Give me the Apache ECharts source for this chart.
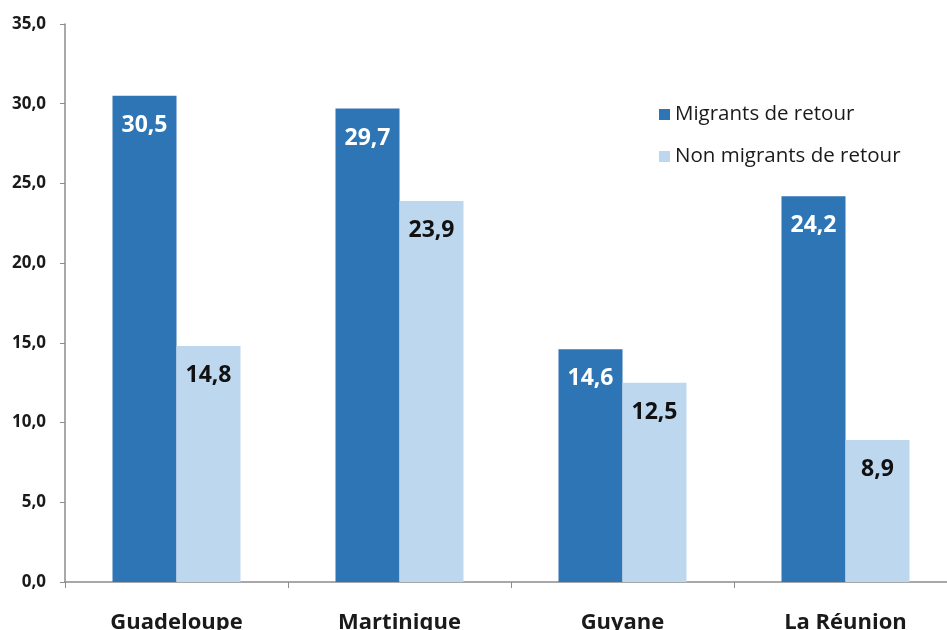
<!DOCTYPE html>
<html>
<head>
<meta charset="utf-8">
<script src="https://cdn.jsdelivr.net/npm/echarts@6/dist/echarts.min.js"></script>
<style>
html,body{margin:0;padding:0;background:#fff;}
#chart{width:947px;height:630px;}
</style>
</head>
<body>
<div id="chart"></div>
<script>
const categories = ['Guadeloupe', 'Martinique', 'Guyane', 'La Réunion'];
const seriesNames = ['Migrants de retour', 'Non migrants de retour'];
const migrants = [30.5, 29.7, 14.6, 24.2];
const nonMigrants = [14.8, 23.9, 12.5, 8.9];

const fmt = v => Number(v).toFixed(1).replace('.', ',');
const FONT = '"Open Sans", "Noto Sans", sans-serif';

const chart = echarts.init(document.getElementById('chart'));
chart.setOption({
  animation: false,
  backgroundColor: '#ffffff',
  textStyle: { fontFamily: FONT },
  legend: {
    orient: 'vertical',
    left: 654,
    top: 99,
    itemWidth: 11,
    itemHeight: 11,
    itemGap: 21,
    icon: 'rect',
    textStyle: { fontSize: 20.5, color: '#1a1a1a', fontFamily: FONT },
    data: seriesNames
  },
  grid: { left: 65, top: 24, right: -10, bottom: 48, containLabel: false, outerBoundsMode: 'none' },
  xAxis: {
    type: 'category',
    data: categories,
    axisLine: { lineStyle: { color: '#8c8c8c', width: 1.5 } },
    axisTick: { show: true, length: 6, lineStyle: { color: '#8c8c8c' } },
    axisLabel: { fontSize: 22, fontWeight: 'bold', color: '#1a1a1a', margin: 30, fontFamily: FONT }
  },
  yAxis: {
    type: 'value',
    min: 0,
    max: 35,
    interval: 5,
    splitLine: { show: false },
    axisLine: { show: true, lineStyle: { color: '#8c8c8c', width: 1.5 } },
    axisTick: { show: true, length: 5, lineStyle: { color: '#8c8c8c' } },
    axisLabel: { fontSize: 17, fontWeight: 'bold', color: '#1a1a1a', margin: 19, formatter: v => fmt(v), fontFamily: FONT }
  },
  series: [
    {
      name: seriesNames[0],
      type: 'bar',
      data: migrants,
      barWidth: 64,
      barGap: '0%',
      itemStyle: { color: '#2e75b6' },
      label: {
        show: true, position: 'insideTop', distance: 18,
        formatter: p => fmt(p.value),
        fontSize: 23, fontWeight: 'bold', color: '#ffffff', fontFamily: FONT
      }
    },
    {
      name: seriesNames[1],
      type: 'bar',
      data: nonMigrants,
      barWidth: 64,
      barGap: '0%',
      itemStyle: { color: '#bdd7ee' },
      label: {
        show: true, position: 'insideTop', distance: 18,
        formatter: p => fmt(p.value),
        fontSize: 23, fontWeight: 'bold', color: '#111111', fontFamily: FONT
      }
    }
  ]
});
</script>
</body>
</html>
